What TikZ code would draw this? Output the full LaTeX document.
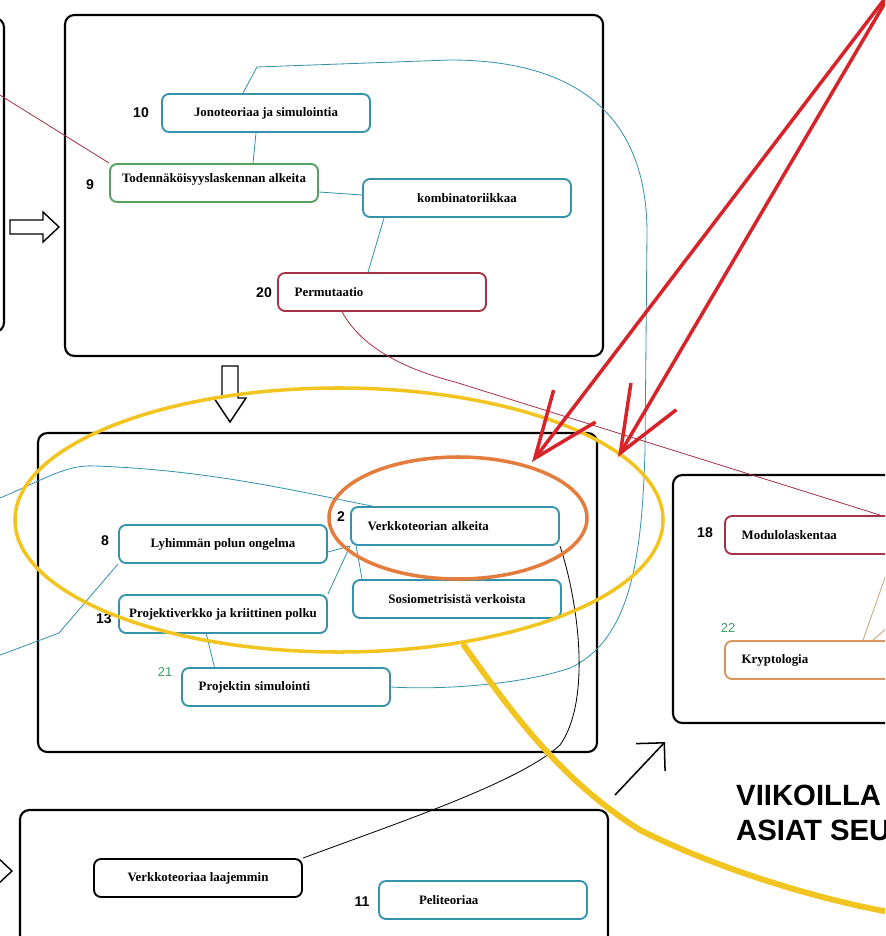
\documentclass[tikz,border=0pt]{standalone}
\usepackage{fontspec}
\setmainfont{Liberation Serif}
\newfontfamily\numfont{Liberation Sans}
\usetikzlibrary{arrows.meta,shapes.geometric}
\definecolor{tealc}{RGB}{52,146,170}
\definecolor{greenc}{RGB}{86,160,96}
\definecolor{maroonc}{RGB}{165,50,72}
\definecolor{tanc}{RGB}{214,150,92}
\definecolor{tanline}{RGB}{196,164,122}
\definecolor{redc}{RGB}{214,36,42}
\definecolor{orangec}{RGB}{228,124,62}
\definecolor{yellowc}{RGB}{242,196,32}
\definecolor{gnumc}{RGB}{60,160,96}

\begin{document}
\begin{tikzpicture}[x=0.03cm,y=-0.03cm]
    \tikzstyle{every node}+=[inner sep=0pt]
    \tikzstyle{frame}=[black, line width=1.8pt, rounded corners=8pt]
    \tikzstyle{hollow}=[black, line width=1.2pt, line join=miter]
    \tikzstyle{topic}=[draw=tealc, line width=1.6pt, rounded corners=6pt, minimum width=6.24cm, minimum height=1.14cm, font=\bfseries\fontsize{11}{12}\selectfont]
    \tikzstyle{lefttopic}=[topic, text width=5.24cm, inner xsep=0.5cm, align=left]
    \tikzstyle{num}=[font=\numfont\bfseries\fontsize{12}{13}\selectfont]
    \tikzstyle{gnum}=[font=\numfont\fontsize{11}{12}\selectfont, text=gnumc]
    \tikzstyle{bigtext}=[anchor=base west, font=\numfont\bfseries\fontsize{25}{28}\selectfont]
    \tikzstyle{link}=[tealc, line width=0.7pt]
    \tikzstyle{redlink}=[maroonc, line width=0.7pt]
    \tikzstyle{redarrow}=[redc, line width=3pt, -{Straight Barb[length=56pt, width=45pt]}]
    \useasboundingbox (0,0) rectangle (885,936);
    \clip (0,0) rectangle (885,936);
    \draw [frame] (-60,18) rectangle (4,332);
    \draw [frame] (65,15) rectangle (603,356);
    \draw [frame] (38,433) rectangle (597,752);
    \draw [frame] (673,475) rectangle (960,723);
    \draw [frame] (20,810) rectangle (608,970);
    \draw [hollow] (10,220) -- (43,220) -- (43,212) -- (59,227) -- (43,242) -- (43,234) -- (10,234) -- cycle;
    \draw [hollow] (222,366) -- (238,366) -- (238,398) -- (246,398) -- (230,422) -- (214,398) -- (222,398) -- cycle;
    \draw [hollow] (-30,864) -- (-3,864) -- (-3,857) -- (12,871) -- (-3,885) -- (-3,878) -- (-30,878) -- cycle;
    \node [num] (l10) at (141,113) {10};
    \node [topic] (jono) at (266,113) {Jonoteoriaa ja simulointia};
    \node [num] (l9) at (90,185) {9};
    \node [topic, draw=greenc, text depth=0.3cm] (tod) at (214,183) {Todennäköisyyslaskennan alkeita};
    \node [topic] (komb) at (467,198) {kombinatoriikkaa};
    \node [num] (l20) at (264,293) {20};
    \node [lefttopic, draw=maroonc] (perm) at (382,292) {Permutaatio};
    \node [num] (l2) at (341,517) {2};
    \node [lefttopic] (verk) at (455,526) {Verkkoteorian alkeita};
    \node [num] (l8) at (105,541) {8};
    \node [topic] (lyh) at (223,544) {Lyhimmän polun ongelma};
    \node [topic] (sosio) at (457,599) {Sosiometrisistä verkoista};
    \node [num] (l13) at (104,619) {13};
    \node [topic] (proj) at (223,614) {Projektiverkko ja kriittinen polku};
    \node [gnum] (l21) at (165,672) {21};
    \node [lefttopic] (psim) at (286,687) {Projektin simulointi};
    \node [num] (l18) at (705,533) {18};
    \node [lefttopic, draw=maroonc] (mod) at (829,535) {Modulolaskentaa};
    \node [gnum] (l22) at (728,628) {22};
    \node [lefttopic, draw=tanc] (kryp) at (829,660) {Kryptologia};
    \node [topic, draw=black] (laaj) at (198,878) {Verkkoteoriaa laajemmin};
    \node [num] (l11) at (362,902) {11};
    \node [lefttopic, inner xsep=1.2cm, text width=3.84cm] (peli) at (483,900) {Peliteoriaa};
    \node [bigtext] (viik) at (736,805) {VIIKOILLA};
    \node [bigtext] (asiat) at (736,840) {ASIAT SEU};
    \coordinate (lft) at (-5,92);
    \coordinate (lm1) at (-5,500);
    \coordinate (lm2) at (-5,657);
    \coordinate (kt1) at (900,535);
    \coordinate (kt2) at (905,612);
    \coordinate (ytail) at (895,913);
    \coordinate (rsrc) at (896,-16);
    \coordinate (rtip1) at (532,462);
    \coordinate (rtip2) at (618,457);
    \coordinate (up1) at (615,795);
    \coordinate (up2) at (665,742);
    \draw [redlink] (lft) -- (tod.north west);
    \draw [link] ([xshift=-0.69cm]jono.north) -- (257,67) -- (450,60) .. controls (570,60) and (647,110) .. (647,233) -- (645,450) .. controls (642,560) and (630,640) .. (570,668) .. controls (520,685) and (440,690) .. (psim.east);
    \draw [link] ([xshift=-0.3cm]jono.south) -- ([xshift=1.17cm]tod.north);
    \draw [link] ([yshift=-0.27cm]tod.east) -- ([yshift=0.09cm]komb.west);
    \draw [link] ([xshift=0.66cm]komb.south west) -- ([xshift=2.73cm]perm.north west);
    \draw [redlink] ([xshift=1.95cm]perm.south west) .. controls (360,345) and (400,368) .. (455,382) -- ([xshift=1.53cm]mod.north);
    \draw [tanline, line width=0.7pt] ([xshift=1.02cm]kryp.north) -- (kt1);
    \draw [tanline, line width=0.7pt] ([xshift=1.32cm]kryp.north) -- (kt2);
    \draw [link] (lm1) .. controls (40,482) and (65,464) .. (95,466) .. controls (210,470) and (300,492) .. ([xshift=0.66cm]verk.north west);
    \draw [link] (lm2) -- (59,633) -- (lyh.south west);
    \draw [link] ([yshift=-0.24cm]lyh.east) -- (verk.south west);
    \draw [link] (proj.north east) -- (verk.south west);
    \draw [link] ([xshift=0.18cm]verk.south west) -- ([xshift=0.3cm]sosio.north west);
    \draw [link] ([xshift=-0.5cm]proj.south) -- ([xshift=1cm]psim.north west);
    \draw [black, line width=0.7pt] (verk.south east) .. controls (578,600) and (592,700) .. (560,745) .. controls (520,782) and (400,822) .. (laaj.north east);
    \node [draw=yellowc, line width=3pt, ellipse, minimum width=19.44cm, minimum height=7.92cm] (yel) at (339,520) {};
    \node [draw=orangec, line width=3pt, ellipse, minimum width=7.74cm, minimum height=3.66cm] (ora) at (458,518) {};
    \draw [yellowc, line width=5pt] (yel.-45) .. controls (510,710) and (560,780) .. (640,830) .. controls (720,870) and (820,900) .. (ytail);
    \draw [redarrow] (rsrc) -- (rtip1);
    \draw [redarrow] (rsrc) -- (rtip2);
    \draw [black, line width=1.3pt, -{Straight Barb[length=17pt, width=34pt]}] (up1) -- (up2);
\end{tikzpicture}
\end{document}
